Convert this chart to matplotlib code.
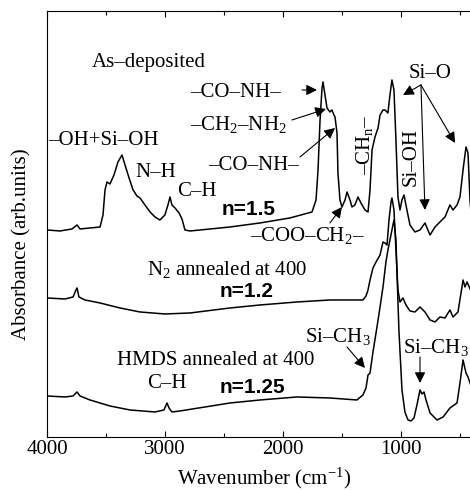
import matplotlib
matplotlib.use("Agg")
import matplotlib.pyplot as plt
from matplotlib.ticker import MultipleLocator

plt.rcParams["font.family"] = ["Liberation Serif", "DejaVu Serif"]
plt.rcParams["mathtext.fontset"] = "custom"
plt.rcParams["mathtext.rm"] = "Liberation Serif"
plt.rcParams["mathtext.it"] = "Liberation Serif:italic"
plt.rcParams["mathtext.default"] = "regular"

# FTIR spectra (wavenumber in cm^-1, absorbance in arb. units, offset per sample)
as_dep_wn = [4000, 3890, 3788, 3745, 3720, 3635, 3550, 3525, 3508, 3491, 3466, 3432,
             3398, 3364, 3338, 3304, 3270, 3237, 3211, 3169, 3126, 3084, 3042, 3000,
             2974, 2957, 2940, 2914, 2880, 2855, 2830, 2787, 2700, 2448, 2193, 1940,
             1752, 1718, 1701, 1684, 1667, 1659, 1642, 1625, 1600, 1583, 1566, 1557,
             1540, 1532, 1515, 1498, 1472, 1455, 1430, 1413, 1388, 1362, 1337, 1303,
             1277, 1260, 1243, 1218, 1192, 1175, 1150, 1133, 1108, 1091, 1074, 1057,
             1040, 1023, 1006, 989, 972, 947, 921, 879, 836, 794, 751, 709, 667, 624,
             582, 556, 522, 497, 471, 446, 429, 412, 400]
as_dep_abs = [2.07, 2.06, 2.08, 2.12, 2.08, 2.09, 2.10, 2.22, 2.47, 2.55, 2.53, 2.62,
              2.75, 2.82, 2.72, 2.59, 2.47, 2.41, 2.39, 2.32, 2.25, 2.20, 2.17, 2.22,
              2.32, 2.40, 2.32, 2.29, 2.24, 2.18, 2.07, 2.06, 2.07, 2.10, 2.14, 2.19,
              2.25, 2.37, 2.67, 3.17, 3.49, 3.55, 3.42, 3.29, 3.25, 3.27, 3.22, 3.20,
              3.04, 2.64, 2.37, 2.30, 2.37, 2.45, 2.37, 2.30, 2.32, 2.40, 2.34, 2.27,
              2.25, 2.47, 2.87, 3.00, 3.09, 3.22, 3.27, 3.27, 3.24, 3.42, 3.57, 3.47,
              2.97, 2.40, 2.27, 2.37, 2.42, 2.27, 2.12, 2.05, 2.07, 2.14, 2.02, 2.10,
              2.15, 2.20, 2.32, 2.27, 2.32, 2.40, 2.67, 2.90, 2.84, 2.37, 2.20]

n2_wn = [4000, 3847, 3779, 3754, 3745, 3729, 3678, 3550, 3381, 3211, 3000, 2787,
         2448, 2193, 1880, 1600, 1320, 1294, 1277, 1260, 1235, 1209, 1175, 1150,
         1133, 1116, 1099, 1082, 1074, 1057, 1040, 1023, 1006, 981, 955, 921, 879,
         836, 794, 751, 709, 667, 624, 582, 556, 514, 480, 471, 454, 437, 400]
n2_abs = [1.39, 1.38, 1.40, 1.47, 1.49, 1.40, 1.37, 1.34, 1.29, 1.25, 1.23, 1.24,
          1.29, 1.32, 1.35, 1.37, 1.37, 1.41, 1.47, 1.57, 1.69, 1.75, 1.82, 1.95,
          1.94, 1.92, 2.17, 2.35, 2.39, 2.27, 1.87, 1.47, 1.35, 1.39, 1.32, 1.26,
          1.25, 1.30, 1.25, 1.17, 1.15, 1.20, 1.19, 1.27, 1.20, 1.25, 1.50, 1.57,
          1.50, 1.55, 1.45]

hmds_wn = [4000, 3847, 3779, 3754, 3745, 3720, 3635, 3466, 3296, 3084, 3008, 2982,
           2965, 2940, 2872, 2448, 2193, 1880, 1600, 1371, 1320, 1294, 1277, 1260,
           1235, 1201, 1175, 1150, 1125, 1108, 1091, 1074, 1057, 1040, 1032, 1015,
           989, 964, 938, 913, 887, 862, 836, 819, 802, 785, 751, 692, 640, 582, 522,
           497, 471, 446, 429, 400]
hmds_abs = [0.41, 0.40, 0.41, 0.44, 0.45, 0.41, 0.37, 0.31, 0.27, 0.25, 0.27, 0.34,
            0.29, 0.25, 0.26, 0.34, 0.37, 0.40, 0.39, 0.37, 0.42, 0.49, 0.62, 0.64,
            0.85, 1.10, 1.30, 1.50, 1.75, 1.87, 1.97, 2.07, 2.17, 1.97, 1.67, 1.07,
            0.47, 0.25, 0.17, 0.16, 0.19, 0.32, 0.47, 0.43, 0.45, 0.37, 0.24, 0.17,
            0.20, 0.29, 0.34, 0.54, 0.77, 0.64, 0.60, 0.50]

x_major_ticks = [4000, 3000, 2000, 1000]
x_tick_labels = ["4000", "3000", "2000", "1000"]

fig = plt.figure(figsize=(4.7, 4.9), dpi=100)
ax = fig.add_axes([0.1, 0.1082, 0.903, 0.8694])

for wn, ab in ((as_dep_wn, as_dep_abs), (n2_wn, n2_abs), (hmds_wn, hmds_abs)):
    ax.plot(wn, ab, color="black", lw=1.1)

ax.set_xlim(4000, 400)
ax.set_ylim(0, 4.26)
ax.set_xticks(x_major_ticks)
ax.set_xticklabels(x_tick_labels)
ax.xaxis.set_minor_locator(MultipleLocator(500))
ax.set_yticks([])
ax.tick_params(axis="x", which="both", direction="in", top=True, bottom=True,
               labelsize=15, pad=2, width=0.8)
ax.tick_params(axis="x", which="major", length=4.5)
ax.tick_params(axis="x", which="minor", length=3)
for sp in ax.spines.values():
    sp.set_linewidth(0.8)

fs = 15
serif = dict(fontsize=fs, va="baseline", ha="left")
bold = dict(fontsize=fs, va="baseline", ha="left", fontweight="bold",
            family=["Liberation Sans", "DejaVu Sans"])

ax.text(3618, 3.70, "As–deposited", **serif)
ax.text(2787, 3.40, "–CO–NH–", **serif)
ax.text(2787, 3.07, "–CH$_2$–NH$_2$", **serif)
ax.text(2634, 2.67, "–CO–NH–", **serif)
ax.text(3992, 2.92, "–OH+Si–OH", **serif)
ax.text(3254, 2.60, "N–H", **serif)
ax.text(2897, 2.41, "C–H", **serif)
ax.text(2516, 2.22, "n=1.5", **bold)
ax.text(2278, 1.96, "–COO–CH$_2$–", **serif)
ax.text(1303, 2.92, "–CH$_n$–", fontsize=fs, rotation=90, ha="center", va="center")
ax.text(751, 3.59, "Si–O", fontsize=fs, ha="center", va="baseline")
ax.text(913, 2.80, "Si–OH", fontsize=fs, rotation=90, ha="center", va="center")
ax.text(3152, 1.62, "N$_2$ annealed at 400", **serif)
ax.text(2533, 1.40, "n=1.2", **bold)
ax.text(3406, 0.72, "HMDS annealed at 400", **serif)
ax.text(3152, 0.49, "C–H", **serif)
ax.text(2533, 0.44, "n=1.25", **bold)
ax.text(1812, 0.95, "Si–CH$_3$", **serif)
ax.text(980, 0.84, "Si–CH$_3$", **serif)

arrow = dict(arrowstyle="-|>", color="black", lw=0.8, mutation_scale=16,
             shrinkA=0, shrinkB=0)
arrows = [
    ((1837, 3.47), (1710, 3.47)),
    ((1922, 3.17), (1634, 3.28)),
    ((1854, 2.80), (1557, 3.09)),
    ((1600, 2.14), (1498, 2.30)),
    ((828, 3.52), (980, 3.42)),
    ((828, 3.52), (794, 2.27)),
    ((828, 3.52), (539, 2.94)),
    ((1455, 0.90), (1303, 0.69)),
    ((836, 0.80), (836, 0.54)),
]
for tail, head in arrows:
    ax.annotate("", xy=head, xytext=tail, arrowprops=arrow)

fig.text(264 / 470, 1 - 484 / 490, "Wavenumber (cm$^{-1}$)", fontsize=fs,
         ha="center", va="baseline")
fig.text(22 / 470, 1 - 244 / 490, "Absorbance (arb.units)", fontsize=fs,
         rotation=90, ha="center", va="center")

fig.savefig("out.png", dpi=100)
